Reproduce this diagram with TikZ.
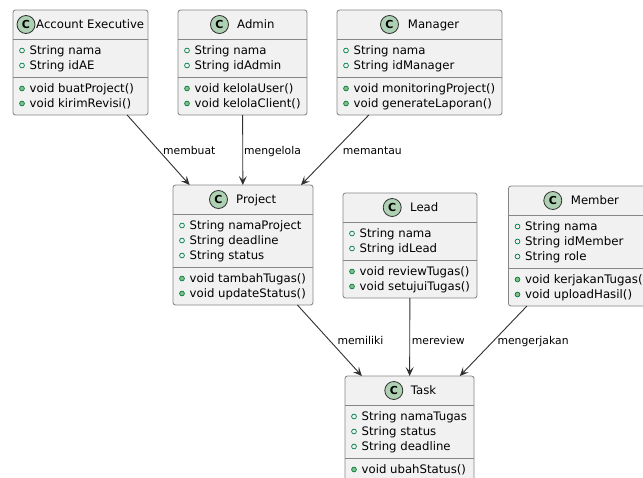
\documentclass[tikz,border=0pt]{standalone}
\usepackage{fontspec}
\setmainfont{DejaVu Sans}
\usetikzlibrary{arrows.meta}

\definecolor{boxfill}{HTML}{F1F1F1}
\definecolor{boxline}{HTML}{868686}
\definecolor{wire}{HTML}{303030}
\definecolor{badge}{HTML}{ADD1B2}
\definecolor{visline}{HTML}{038048}
\definecolor{visfill}{HTML}{84BE84}

\tikzset{
  classbox/.style={draw=boxline, fill=boxfill, line width=0.85pt, rounded corners=2.5pt, inner sep=0pt, outer sep=0pt},
  sepline/.style={draw=boxline, line width=0.85pt},
  memberline/.style={anchor=base west, inner sep=0pt, font=\fontsize{11.7}{14}\selectfont},
  titletext/.style={anchor=base west, inner sep=0pt, font=\fontsize{11.7}{14}\selectfont},
  fieldmark/.style={draw=visline, line width=0.7pt},
  methodmark/.style={draw=visline, fill=visfill, line width=0.7pt},
  badgecircle/.style={circle, draw=wire, fill=badge, line width=0.8pt, minimum size=18pt, inner sep=0pt, font=\bfseries\fontsize{11}{12}\selectfont},
  assoc/.style={draw=wire, line width=0.9pt, -{Stealth[length=9pt,width=8pt,inset=4pt]}},
  reltext/.style={anchor=base west, inner sep=0pt, font=\fontsize{10.8}{13}\selectfont},
}

% #1 name, #2 left, #3 top, #4 width, #5 badge offset, #6 title offset,
% #7 title, #8 fields, #9 methods
\newcommand\umlclass[9]{%
  \foreach \f [count=\k] in {#8} {\xdef\clsNA{\k}}%
  \foreach \f [count=\k] in {#9} {\xdef\clsNM{\k}}%
  \pgfmathsetmacro\clsHA{15*\clsNA+8}%
  \pgfmathsetmacro\clsHM{15*\clsNM+8}%
  \pgfmathsetmacro\clsHT{29+\clsHA+\clsHM}%
  \node[classbox, minimum width=#4pt, minimum height=\clsHT pt, anchor=north west] (#1) at (#2,#3) {};
  \draw[sepline] ([yshift=-29pt]#1.north west) -- ([yshift=-29pt]#1.north east);
  \draw[sepline] ([yshift=-29pt-\clsHA pt]#1.north west) -- ([yshift=-29pt-\clsHA pt]#1.north east);
  \node[badgecircle] (#1-badge) at (#2+#5,#3+14.5) {C};
  \node[titletext] (#1-title) at (#2+#6,#3+18.7) {#7};
  \foreach \f [count=\k] in {#8} {%
    \pgfmathsetmacro\yy{#3+29+11.5+15*(\k-1)}%
    \draw[fieldmark] (#2+9,\yy) circle (2.4pt);
    \node[memberline] (#1-f\k) at (#2+16.5,\yy+4.3) {\f};
  }%
  \foreach \f [count=\k] in {#9} {%
    \pgfmathsetmacro\yy{#3+29+\clsHA+11.5+15*(\k-1)}%
    \draw[methodmark] (#2+9,\yy) circle (2.4pt);
    \node[memberline] (#1-m\k) at (#2+16.5,\yy+4.3) {\f};
  }%
}

\begin{document}
\begin{tikzpicture}[x=1pt,y=-1pt]
  \useasboundingbox (0,0) rectangle (643,477);
  \fill[white] (0,0) rectangle (643,477);
  \clip (0,0) rectangle (643,477);

  \umlclass{ae}{13}{10}{135}{13}{23}{Account Executive}
    {String nama, String idAE}{void buatProject(), void kirimRevisi()}
  \umlclass{admin}{178}{10}{129}{41.5}{59}{Admin}
    {String nama, String idAdmin}{void kelolaUser(), void kelolaClient()}
  \umlclass{manager}{337}{10}{165}{52.5}{70.7}{Manager}
    {String nama, String idManager}{void monitoringProject(), void generateLaporan()}
  \umlclass{project}{173}{185}{140}{45.5}{63}{Project}
    {String namaProject, String deadline, String status}{void tambahTugas(), void updateStatus()}
  \umlclass{lead}{343}{193}{134}{49.2}{67}{Lead}
    {String nama, String idLead}{void reviewTugas(), void setujuiTugas()}
  \begin{scope}[memberline/.style={anchor=base west, inner sep=0pt, font=\fontsize{11.8}{14}\selectfont}]
    \umlclass{member}{508.5}{186}{152}{44.3}{62.2}{Member}
      {String nama, String idMember, String role}{void kerjakanTugas(), void uploadHasil()}
  \end{scope}
  \umlclass{task}{345}{376}{129}{48.8}{65.7}{Task}
    {String namaTugas, String status, String deadline}{void ubahStatus()}

  % associations
  \draw[assoc] (ae) -- (project);
  \draw[assoc] (admin) -- (project);
  \draw[assoc] (manager) -- (project);
  \draw[assoc] (project) -- (task);
  \draw[assoc] (lead) -- (task);
  \draw[assoc] (member) -- (task);

  % association labels
  \node[reltext] (lbl-membuat) at (163,154.5) {membuat};
  \node[reltext] (lbl-mengelola) at (244,154.5) {mengelola};
  \node[reltext] (lbl-memantau) at (342.7,154.5) {memantau};
  \node[reltext] (lbl-memiliki) at (337.3,344.5) {memiliki};
  \node[reltext] (lbl-mereview) at (411.7,344.5) {mereview};
  \node[reltext] (lbl-mengerjakan) at (497.3,344.5) {mengerjakan};
\end{tikzpicture}
\end{document}
